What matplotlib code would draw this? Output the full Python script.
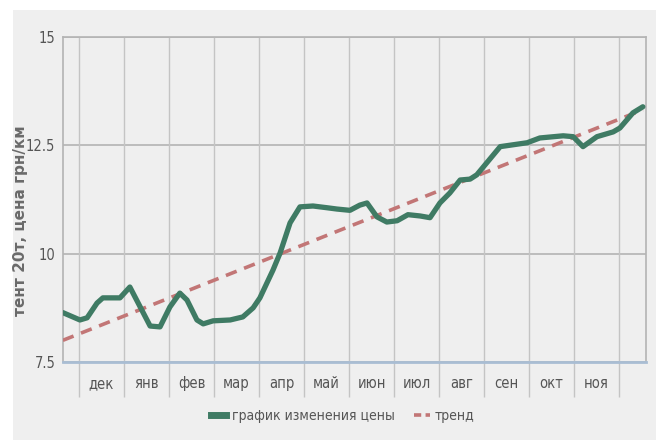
import numpy as np
import matplotlib
matplotlib.use('Agg')
import matplotlib.pyplot as plt
from matplotlib.patches import Rectangle
from matplotlib.lines import Line2D
from matplotlib import font_manager

# месяцы и точки графика цены (позиция в месяцах от начала дек)
months = ['дек', 'янв', 'фев', 'мар', 'апр', 'май', 'июн', 'июл', 'авг', 'сен', 'окт', 'ноя']
price_x = [-0.36, 0.02, 0.18, 0.4, 0.53, 0.91, 1.13, 1.36, 1.58, 1.8, 2.02, 2.24, 2.4, 2.62,
           2.76, 2.98, 3.36, 3.64, 3.87, 4.02, 4.31, 4.47, 4.69, 4.91, 5.2, 5.51, 5.73, 6.02,
           6.24, 6.4, 6.62, 6.84, 7.07, 7.31, 7.58, 7.8, 8.02, 8.24, 8.47, 8.69, 8.84, 9.36,
           9.96, 10.24, 10.76, 10.98, 11.2, 11.51, 11.87, 12.02, 12.31, 12.53]
price_y = [8.64, 8.47, 8.52, 8.86, 8.98, 8.98, 9.23, 8.77, 8.33, 8.31, 8.77, 9.09, 8.93, 8.47,
           8.38, 8.45, 8.47, 8.54, 8.75, 8.98, 9.62, 10.02, 10.71, 11.08, 11.1, 11.06, 11.03, 11.0,
           11.12, 11.17, 10.85, 10.73, 10.76, 10.9, 10.87, 10.83, 11.17, 11.4, 11.7, 11.72, 11.82, 12.47,
           12.56, 12.67, 12.72, 12.7, 12.47, 12.7, 12.81, 12.9, 13.25, 13.39]
trend_x = [-0.36, 12.53]
trend_y = [8.0, 13.32]
y_ticks = [7.5, 10, 12.5, 15]
y_labels = ['7.5', '10', '12.5', '15']

GREEN = '#3f7b64'
RED = '#c27676'
GRID = '#c4c4c4'
TXT = '#555555'

# узкий шрифт для подписей
cond = font_manager.FontProperties(family='DejaVu Sans', stretch='condensed', size=10.5)
cond_leg = font_manager.FontProperties(family='DejaVu Sans', stretch='condensed', size=10)

fig = plt.figure(figsize=(6.6, 4.42), dpi=100)
fig.patch.set_facecolor('white')
# серая подложка
fig.patches.append(Rectangle((13 / 660, 2 / 442), 643 / 660, 430 / 442,
                             transform=fig.transFigure, facecolor='#efefef',
                             edgecolor='none', zorder=-10))

ax = fig.add_axes([63 / 660, 80 / 442, 583 / 660, 325 / 442])
ax.set_facecolor('#efefef')
ax.set_xlim(-0.356, 12.6)
ax.set_ylim(7.5, 15)

for y in y_ticks:
    ax.axhline(y, color='#b4b4b4', lw=1.2, zorder=1)
for i in range(13):
    ax.axvline(i, color=GRID, lw=1, zorder=1)

ax.plot(trend_x, trend_y, color=RED, lw=2.6, dashes=(3.2, 2.2), zorder=3)
ax.plot(price_x, price_y, color=GREEN, lw=3.8, solid_joinstyle='round',
        solid_capstyle='round', zorder=4)

# оси
for side in ['left', 'right', 'top']:
    ax.spines[side].set_color('#b4b4b4')
    ax.spines[side].set_linewidth(1.2)
ax.spines['bottom'].set_color('#a9bdd3')
ax.spines['bottom'].set_linewidth(2)

ax.set_yticks(y_ticks)
ax.set_yticklabels(y_labels, color=TXT, fontproperties=cond)
ax.tick_params(axis='y', length=0, pad=5.5)

ax.set_xticks(range(13))
ax.set_xticklabels([])
ax.tick_params(axis='x', which='major', length=25, width=1, color=GRID, direction='out')
ax.set_xticks(np.arange(12) + 0.5, minor=True)
ax.set_xticklabels(months, minor=True, color=TXT, fontproperties=cond)
ax.tick_params(axis='x', which='minor', length=0, pad=10)

fig.text(21 / 660, 0.5, 'тент 20т, цена грн/км', rotation=90, ha='center', va='center',
         fontsize=11, fontweight='bold', color='#6a6a6a')

handles = [Line2D([], [], color=GREEN, lw=5),
           Line2D([], [], color=RED, lw=2.6, dashes=(2, 1.2))]
fig.legend(handles, ['график изменения цены', 'тренд'], loc='center',
           bbox_to_anchor=(343 / 660, 1 - 416 / 442), ncol=2, frameon=False,
           prop=cond_leg, labelcolor=TXT, handlelength=1.1,
           handletextpad=0.4, columnspacing=1.4)

fig.savefig('out.png', dpi=100, facecolor='white')
